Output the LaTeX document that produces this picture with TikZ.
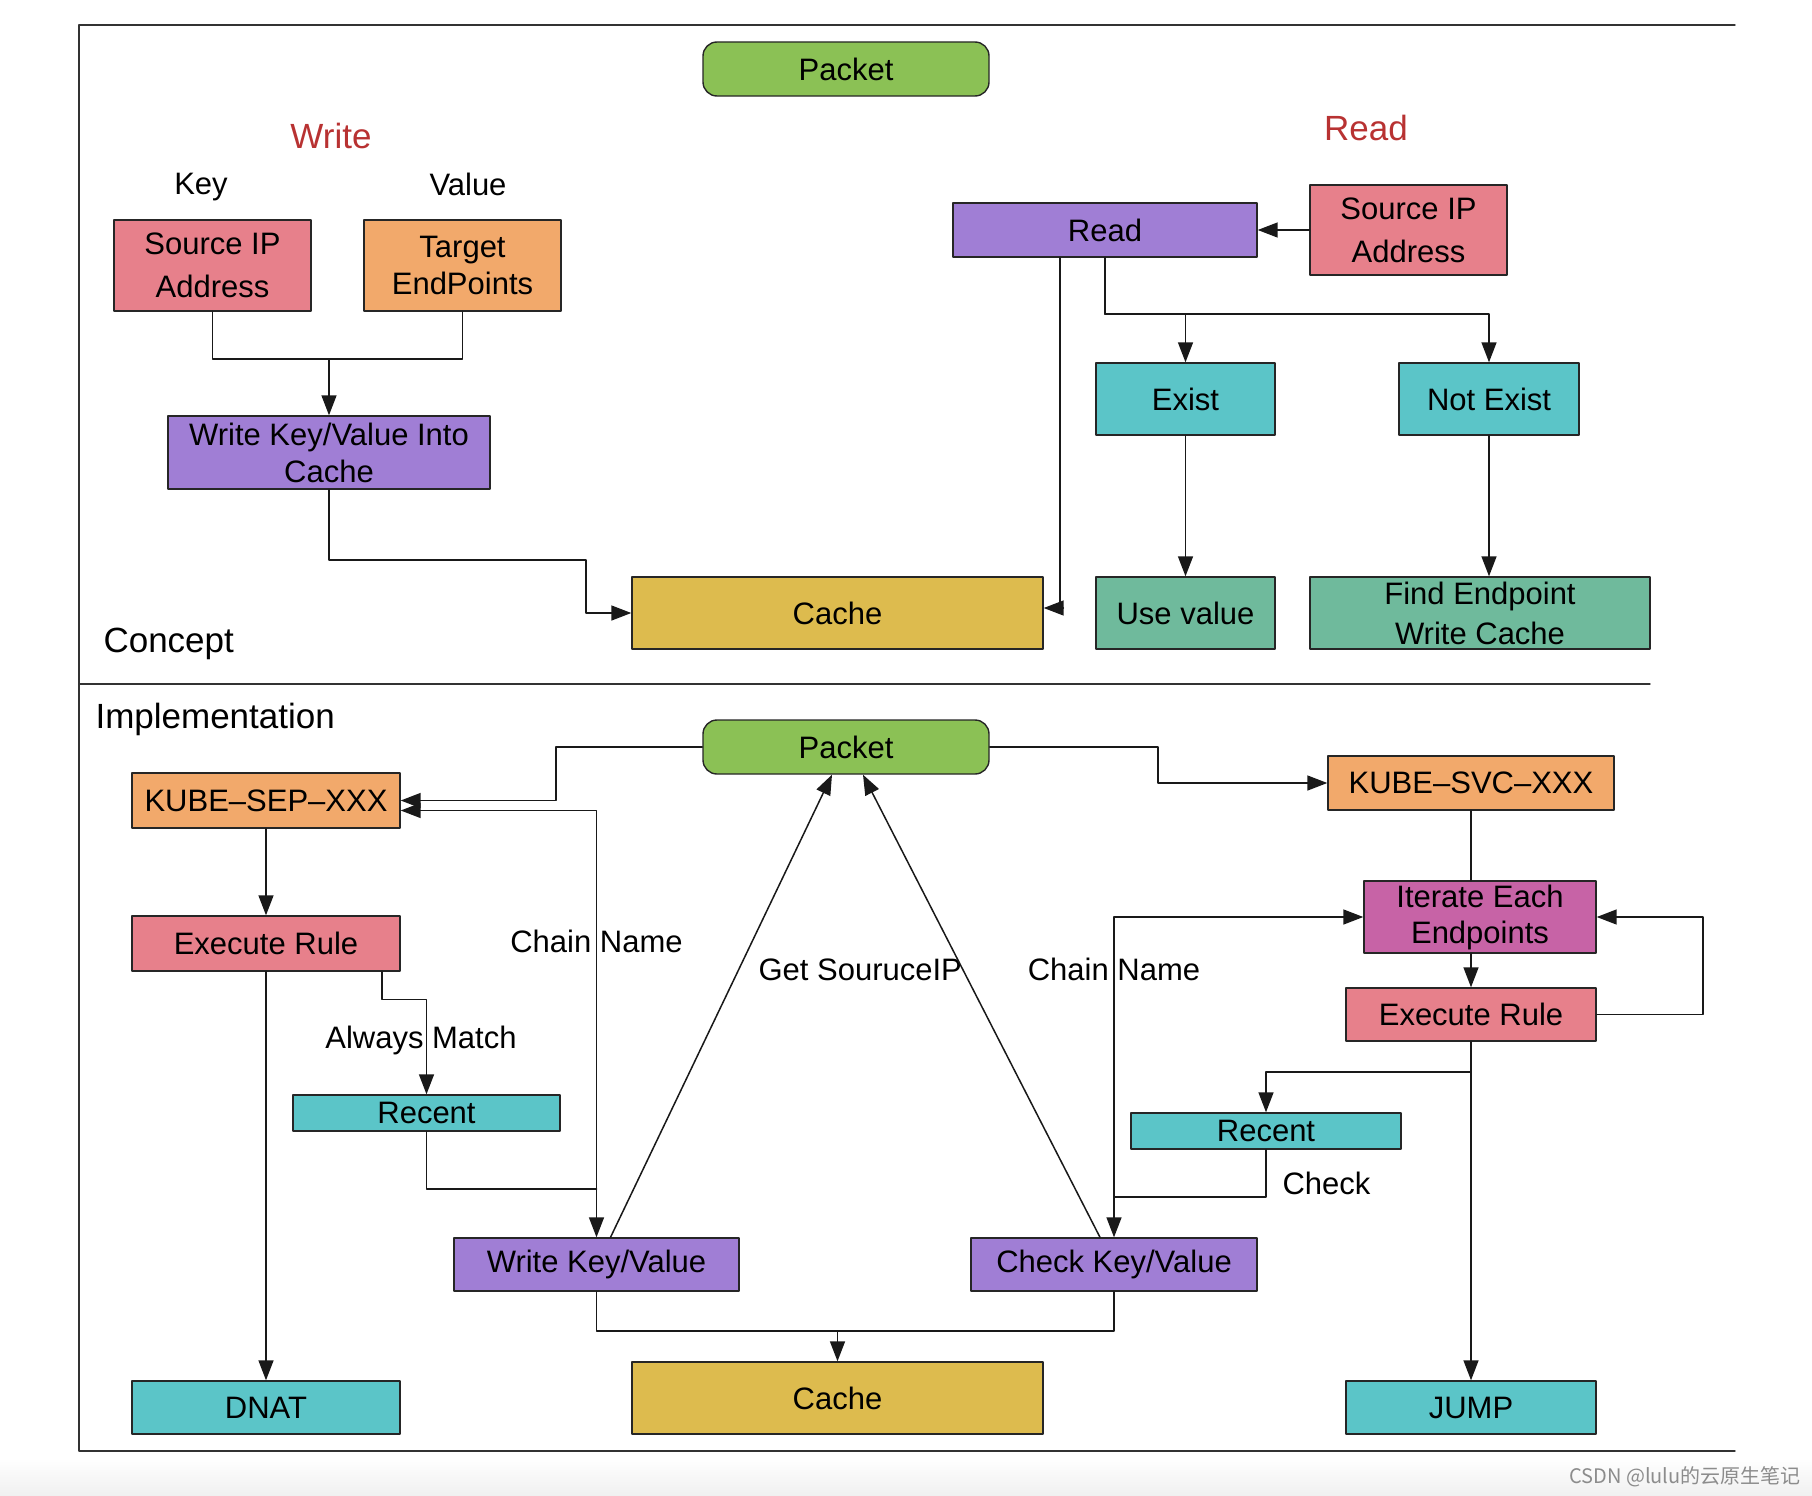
\documentclass[tikz,border=0pt]{standalone}
\usepackage{fontspec}
\setmainfont{Liberation Sans}
\newfontfamily\cjkfont{Noto Sans CJK SC}
\usetikzlibrary{arrows.meta}
\definecolor{pktgreen}{RGB}{139,193,85}
\definecolor{ippink}{RGB}{231,128,139}
\definecolor{eporange}{RGB}{242,169,107}
\definecolor{kvpurple}{RGB}{160,126,213}
\definecolor{cachegold}{RGB}{221,187,78}
\definecolor{stteal}{RGB}{91,197,200}
\definecolor{resgreen}{RGB}{111,186,156}
\definecolor{itmagenta}{RGB}{199,99,166}
\definecolor{headred}{RGB}{184,50,50}

\begin{document}
\begin{tikzpicture}[x=1pt,y=-1pt,line cap=round,line join=round,>={Triangle[length=20pt,width=15pt]},
  blk/.style={draw=black!85,line width=1.4pt,inner sep=0pt,align=center,font=\fontsize{31}{37}\selectfont},
  lbl/.style={font=\fontsize{31}{37}\selectfont},
  hdr/.style={font=\fontsize{35}{40}\selectfont},
  wire/.style={line width=1.5pt,draw=black!90}]
\useasboundingbox (0,0) rectangle (1812,1496);
\shade[top color=white,bottom color=black!6] (0,1458) rectangle (1812,1496);
\node[text=black!45,font=\cjkfont\fontsize{20}{24}\selectfont] (mark) at (1685,1477) {CSDN @lulu的云原生笔记};

% frame
\draw[line width=1.4pt,black!80] (1735,25) -- (79,25) -- (79,1451) -- (1735,1451);
\draw[line width=1.4pt,black!80] (79,684) -- (1650,684);

% concept
\node[blk,fill=pktgreen,rounded corners=14pt,minimum width=286pt,minimum height=54pt] (pkt1) at (846,69) {Packet};
\node[hdr,text=headred] (wtitle) at (331,136) {Write};
\node[lbl] (key) at (201,187) {Key};
\node[lbl] (val) at (468,184) {Value};
\node[blk,fill=ippink,minimum width=197pt,minimum height=91pt] (srcW) at (212.5,265.5) {Source IP\\[6pt]Address};
\node[blk,fill=eporange,minimum width=197pt,minimum height=91pt] (tgt) at (462.5,265.5) {Target\\EndPoints};
\node[blk,fill=kvpurple,minimum width=322pt,minimum height=73pt] (wkv) at (329,452.5) {Write Key/Value Into\\Cache};
\node[blk,fill=cachegold,minimum width=411pt,minimum height=72pt] (cache1) at (837.5,613) {Cache};
\node[hdr,anchor=west] (concept) at (100,644) {Concept};
\node[hdr,text=headred] (rtitle) at (1366,128) {Read};
\node[blk,fill=kvpurple,minimum width=304pt,minimum height=54pt] (rd) at (1105,230) {Read};
\node[blk,fill=ippink,minimum width=197pt,minimum height=90pt] (srcR) at (1408.5,230) {Source IP\\[6pt]Address};
\node[blk,fill=stteal,minimum width=179pt,minimum height=72pt] (exist) at (1185.5,399) {Exist};
\node[blk,fill=stteal,minimum width=180pt,minimum height=72pt] (nexist) at (1489,399) {Not Exist};
\node[blk,fill=resgreen,minimum width=179pt,minimum height=72pt] (usev) at (1185.5,613) {Use value};
\node[blk,fill=resgreen,minimum width=340pt,minimum height=72pt] (find) at (1480,613) {Find Endpoint\\[3pt]Write Cache};

\coordinate (jW) at (329,359);
\draw[wire] (srcW.south) |- (jW) -| (tgt.south);
\draw[wire,->] (jW) -- (wkv.north);
\draw[wire,->] (wkv.south) |- (586,560) |- (cache1.west);
\draw[wire,->] ([xshift=-45pt]rd.south) |- ([yshift=5pt]cache1.east);
\coordinate (jR) at (1105,314);
\draw[wire] (rd.south) -- (jR);
\draw[wire,->] (jR) -| (exist.north);
\draw[wire,->] (jR) -| (nexist.north);
\draw[wire,->] (srcR.west) -- (rd.east);
\draw[wire,->] (exist.south) -- (usev.north);
\draw[wire,->] (nexist.south) -- (nexist.south |- find.north);

% implementation
\node[hdr,anchor=west] (impl) at (92,719) {Implementation};
\node[blk,fill=pktgreen,rounded corners=14pt,minimum width=286pt,minimum height=54pt] (pkt2) at (846,747) {Packet};
\node[blk,fill=eporange,minimum width=268pt,minimum height=55pt] (sep) at (266,800.5) {KUBE--SEP--XXX};
\node[blk,fill=eporange,minimum width=286pt,minimum height=54pt] (svc) at (1471,783) {KUBE--SVC--XXX};
\node[blk,fill=ippink,minimum width=268pt,minimum height=55pt] (exec1) at (266,943.5) {Execute Rule};
\node[blk,fill=stteal,minimum width=267pt,minimum height=36pt] (rec1) at (426.5,1113) {Recent};
\node[blk,fill=kvpurple,minimum width=285pt,minimum height=53pt] (wkv2) at (596.5,1264.5) {Write Key/Value};
\node[blk,fill=stteal,minimum width=268pt,minimum height=53pt] (dnat) at (266,1407.5) {DNAT};
\node[blk,fill=cachegold,minimum width=411pt,minimum height=72pt] (cache2) at (837.5,1398) {Cache};
\node[blk,fill=itmagenta,minimum width=232pt,minimum height=72pt] (iter) at (1480,917) {Iterate Each\\[-1pt]Endpoints};
\node[blk,fill=ippink,minimum width=250pt,minimum height=53pt] (exec2) at (1471,1014.5) {Execute Rule};
\node[blk,fill=stteal,minimum width=270pt,minimum height=36pt] (rec2) at (1266,1131) {Recent};
\node[blk,fill=kvpurple,minimum width=286pt,minimum height=53pt] (ckv) at (1114,1264.5) {Check Key/Value};
\node[blk,fill=stteal,minimum width=250pt,minimum height=53pt] (jump) at (1471,1407.5) {JUMP};

\node[lbl] (cn1) at (596.5,941) {Chain Name};
\node[lbl] (cn2) at (1114,969) {Chain Name};
\node[lbl] (amatch) at (421,1040) {Always Match};
\node[lbl,anchor=west] (getip) at (755,970) {Get SouruceIP};
\node[lbl,anchor=west] (chk) at (1279,1183) {Check};

\draw[wire,->] (pkt2.west) -| (556,800.5) -- (sep.east);
\draw[wire,<->] ([yshift=-10pt]sep.east) -| (wkv2.north);
\coordinate (jA) at (596.5,1189);
\draw[wire] (rec1.south) |- (jA);
\draw[wire,->] (sep.south) -- (exec1.north);
\draw[wire,->] (exec1.south) -- (dnat.north);
\draw[wire,->] ([xshift=116pt]exec1.south) -- ++(0,28) -| (rec1.north);
\draw[wire,->] ([xshift=14pt]wkv2.north) -- ([xshift=-14pt]pkt2.south);
\draw[wire,->] ([xshift=-14pt]ckv.north) -- ([xshift=17pt]pkt2.south);
\draw[wire,->] (pkt2.east) -| (1158,783) -- (svc.west);
\draw[wire] (svc.south) -- (svc.south |- iter.north);
\draw[wire,->] (exec2.north |- iter.south) -- (exec2.north);
\draw[wire,->] (exec2.east) -| (1703,917) -- (iter.east);
\draw[wire,<->] (iter.west) -| (ckv.north);
\coordinate (jB) at (1471,1072);
\draw[wire,->] (exec2.south) -- (jump.north);
\draw[wire,->] (jB) -| (rec2.north);
\coordinate (jC) at (1114,1197);
\draw[wire] (rec2.south) |- (jC);
\coordinate (jD) at (837.5,1331);
\draw[wire] (wkv2.south) |- (jD) -| (ckv.south);
\draw[wire,->] (jD) -- (cache2.north);
\end{tikzpicture}
\end{document}
